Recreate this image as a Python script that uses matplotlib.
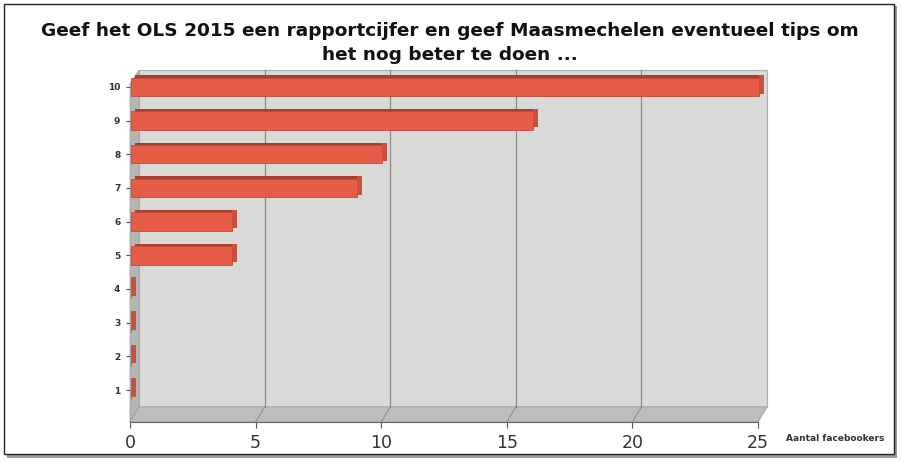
import matplotlib
matplotlib.use("Agg")
import matplotlib.pyplot as plt
from matplotlib.patches import Rectangle, Polygon

categories = ["1", "2", "3", "4", "5", "6", "7", "8", "9", "10"]
values = [0, 0, 0, 0, 4, 4, 9, 10, 16, 25]
xticks = [0, 5, 10, 15, 20, 25]
title = "Geef het OLS 2015 een rapportcijfer en geef Maasmechelen eventueel tips om\nhet nog beter te doen ..."
xlabel = "Aantal facebookers"

W, H = 911, 461
fig = plt.figure(figsize=(W / 100, H / 100), dpi=100)
fig.patch.set_facecolor("white")

# outer frame with shadow
fig.patches.append(Rectangle((7 / W, 1 - 458 / H), 890 / W, 452 / H, transform=fig.transFigure,
                             facecolor="#9a9a9a", edgecolor="none", zorder=0))
fig.patches.append(Rectangle((4 / W, 1 - 454 / H), 890 / W, 450 / H, transform=fig.transFigure,
                             facecolor="white", edgecolor="#222222", lw=1.0, zorder=1))

left, right = 130 / W, 758 / W
top, bottom = 1 - 70 / H, 1 - 422 / H
ax = fig.add_axes([left, bottom, right - left, top - bottom])
ax.set_facecolor("none")
ax.set_zorder(2)

# 3D box
dx, yb = 0.36, 0.5
y0 = 0.05
ax.add_patch(Polygon([(dx, yb), (25 + dx, yb), (25 + dx, 10.5), (dx, 10.5)], clip_on=False,
                     closed=True, facecolor="#d9d9d7", edgecolor="#b0b0b0", lw=0.8, zorder=0))
ax.add_patch(Polygon([(0, y0), (dx, yb), (dx, 10.5), (0, 10.1)], clip_on=False,
                     closed=True, facecolor="#b5b5b3", edgecolor="#a0a0a0", lw=0.5, zorder=0.5))
ax.add_patch(Polygon([(0, y0), (25, y0), (25 + dx, yb), (dx, yb)], clip_on=False,
                     closed=True, facecolor="#bdbdbb", edgecolor="#9a9a9a", lw=0.6, zorder=0.5))

for t in xticks[1:-1]:
    ax.plot([t + dx, t + dx], [yb, 10.5], color="#8a8a8a", lw=0.9, zorder=0.8, clip_on=False)
    ax.plot([t, t + dx], [y0, yb], color="#8a8a8a", lw=0.7, zorder=0.8, clip_on=False)

ypos = [int(c) for c in categories]
h = 0.55
# shadow / depth
ax.barh([y + 0.07 for y in ypos], values, height=h, left=0.2, color="#a8402f", zorder=2,
        clip_on=False)
ax.barh(ypos, values, height=h, left=0.05, color="#e65c47", edgecolor="#c24a38", lw=0.6,
        zorder=3, clip_on=False)
for y, v in zip(ypos, values):
    ax.add_patch(Rectangle((v + 0.05, y - h / 2 + 0.07), 0.2, h, facecolor="#c8503c",
                           edgecolor="none", zorder=3.5, clip_on=False))

ax.set_xlim(0, 25)
ax.set_ylim(y0, 10.5)
ax.set_xticks(xticks)
ax.set_xticklabels([str(t) for t in xticks], fontsize=12.5, color="#333333")
ax.set_yticks(ypos)
ax.set_yticklabels(categories, fontsize=6.5, fontweight="bold", color="#333333")
ax.tick_params(axis="x", length=4, color="#555555", pad=5)
ax.tick_params(axis="y", length=3, color="#555555", pad=4)
for s in ["top", "right", "left"]:
    ax.spines[s].set_visible(False)
ax.spines["bottom"].set_color("#666666")
ax.spines["bottom"].set_linewidth(0.8)

fig.text(786 / W, 1 - 438 / H, xlabel, fontsize=6.5, fontweight="bold", color="#333333",
         ha="left", va="center")
fig.text(450 / W, 1 - 43 / H, title, fontsize=13.3, fontweight="bold", ha="center", va="center",
         linespacing=1.4, color="#111111")

fig.savefig("out.png", dpi=100)
